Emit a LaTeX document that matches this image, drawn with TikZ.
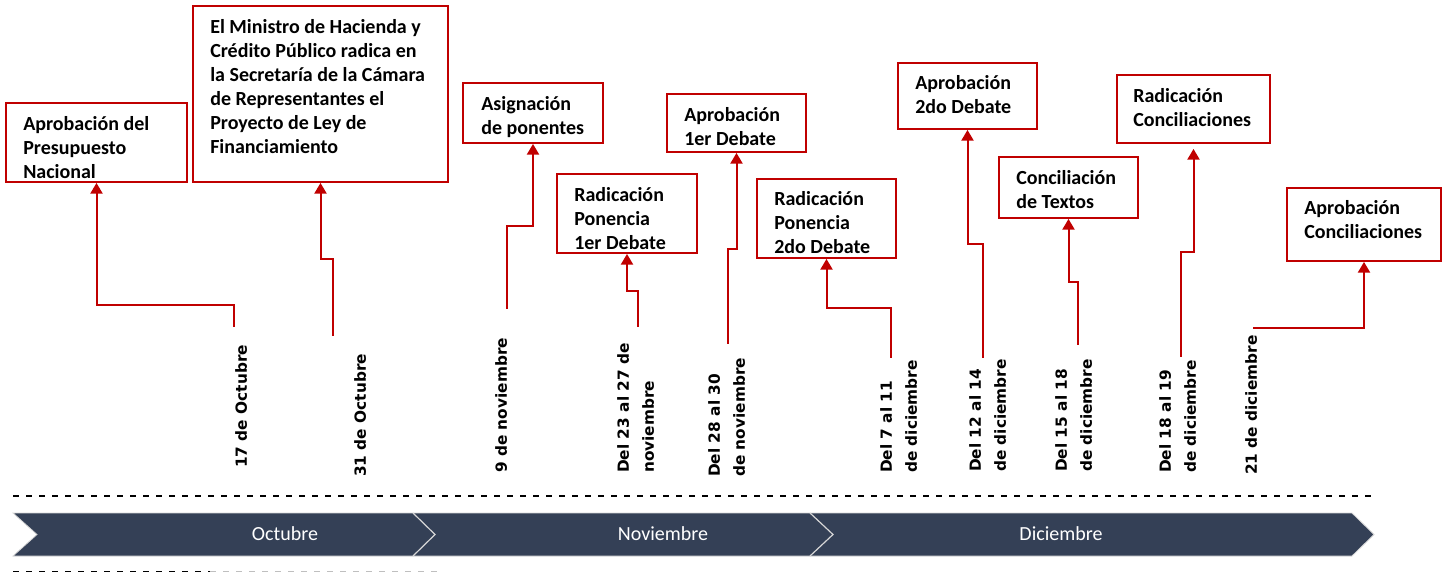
\documentclass[tikz,border=0pt]{standalone}
\usepackage{fontspec}
\setmainfont{Carlito}
\newfontfamily\datefont{DejaVu Sans}
\usetikzlibrary{arrows.meta,calc,fit}
\definecolor{rojo}{RGB}{192,0,0}
\definecolor{pizarra}{RGB}{52,64,86}
\definecolor{sep}{RGB}{215,215,215}
\begin{document}
\begin{tikzpicture}[x=0.75pt,y=-0.75pt,
  box/.style={draw=rojo, line width=1.4pt, inner sep=0pt},
  btext/.style={anchor=north west, inner sep=0pt, align=left, font=\fontsize{15}{18}\selectfont\bfseries},
  dlabel/.style={anchor=north west, inner sep=0pt, align=left, rotate=90, font=\datefont\fontsize{11.5}{18.75}\selectfont\bfseries},
  conn/.style={draw=rojo, line width=1.5pt, -{Triangle[length=8pt,width=9pt]}},
  mlabel/.style={text=white, inner sep=0pt, font=\fontsize{15}{18}\selectfont},
  dashline/.style={line width=1pt, dash pattern=on 4.5pt off 5.25pt}]
\useasboundingbox (0,0) rectangle (1445,573);

% boxes
\node[box, fit={(6,103) (187,182)}] (b1) {};
\node[box, fit={(193,6) (448,182)}] (b2) {};
\node[box, fit={(463,83) (603,143)}] (b3) {};
\node[box, fit={(557,174) (697,253)}] (b4) {};
\node[box, fit={(667,94) (806,152)}] (b5) {};
\node[box, fit={(757,179) (896,258)}] (b6) {};
\node[box, fit={(898,63) (1037,129)}] (b7) {};
\node[box, fit={(999,157) (1138,218)}] (b8) {};
\node[box, fit={(1117,75) (1270,143)}] (b9) {};
\node[box, fit={(1287,188) (1441,261)}] (b10) {};

% box texts
\node[btext] (t1) at (23,113.7) {\strut Aprobación del\\Presupuesto\\Nacional};
\node[btext] (t2) at (210,16.7) {\strut El Ministro de Hacienda y\\Crédito Público radica en\\la Secretaría de la Cámara\\de Representantes el\\Proyecto de Ley de\\Financiamiento};
\node[btext] (t3) at (481,93.7) {\strut Asignación\\de ponentes};
\node[btext] (t4) at (574,184.7) {\strut Radicación\\Ponencia\\1er Debate};
\node[btext] (t5) at (684,104.7) {\strut Aprobación\\1er Debate};
\node[btext] (t6) at (774,188.7) {\strut Radicación\\Ponencia\\2do Debate};
\node[btext] (t7) at (915,72.7) {\strut Aprobación\\2do Debate};
\node[btext] (t8) at (1016,167.7) {\strut Conciliación\\de Textos};
\node[btext] (t9) at (1133,85.7) {\strut Radicación\\Conciliaciones};
\node[btext] (t10) at (1304,197.7) {\strut Aprobación\\Conciliaciones};

% connector start points
\coordinate (s1) at (234,327);
\coordinate (s2) at (333,336);
\coordinate (s3) at (507,309);
\coordinate (s4) at (638,327);
\coordinate (s5) at (728,344);
\coordinate (s6) at (891,358);
\coordinate (s7) at (983,358);
\coordinate (s8) at (1078,345);
\coordinate (s9) at (1181,357);
\coordinate (s10) at (1253,328);

\draw[conn] (s1) -- ++(0,-22) -| (b1.south);
\draw[conn] (s2) -- ++(0,-77) -| (b2.south);
\draw[conn] (s3) -- ++(0,-83) -| (b3.south);
\draw[conn] (s4) -- ++(0,-36) -| (b4.south);
\draw[conn] (s5) -- ++(0,-95) -| (b5.south);
\draw[conn] (s6) -- ++(0,-50) -| (b6.south);
\draw[conn] (s7) -- ++(0,-114) -| (b7.south);
\draw[conn] (s8) -- ++(0,-63) -| (b8.south);
\draw[conn] (s9) -- ++(0,-105) -| ($(b9.south)+(0,5)$);
\draw[conn] (s10) -| (b10.south);

% date labels
\node[dlabel] (d1) at (229.1,468) {\strut 17 de Octubre};
\node[dlabel] (d2) at (348.1,477) {\strut 31 de Octubre};
\node[dlabel] (d3) at (489.1,473) {\strut 9 de noviembre};
\node[dlabel] (d4) at (611.1,473) {\strut Del 23 al 27 de\\noviembre};
\node[dlabel] (d5) at (702.1,477) {\strut Del 28 al 30\\de noviembre};
\node[dlabel] (d6) at (874.1,473) {\strut Del 7 al 11\\de diciembre};
\node[dlabel] (d7) at (963.1,472) {\strut Del 12 al 14\\de diciembre};
\node[dlabel] (d8) at (1049.1,472) {\strut Del 15 al 18\\de diciembre};
\node[dlabel] (d9) at (1153.1,473) {\strut Del 18 al 19\\de diciembre};
\node[dlabel] (d10) at (1239.1,475) {\strut 21 de diciembre};

% dashed lines
\draw[dashline] (13,496) -- (1373,496);
\draw[dashline] (13,571.5) -- (210,571.5);
\draw[dashline, draw=black!25] (210,571.5) -- (440,571.5);

% chevron bar
\fill[pizarra, draw=sep, line width=0.6pt] (13,513) -- (1352,513) -- (1374,534.5) -- (1352,556) -- (13,556) -- (37,534.5) -- cycle;
\draw[sep, line width=0.9pt] (413,513) -- (435,534.5) -- (413,556);
\draw[sep, line width=0.9pt] (810,513) -- (833,534.5) -- (810,556);
\node[mlabel] (m1) at (285,534) {Octubre};
\node[mlabel] (m2) at (663,534) {Noviembre};
\node[mlabel] (m3) at (1061,534) {Diciembre};
\end{tikzpicture}
\end{document}
